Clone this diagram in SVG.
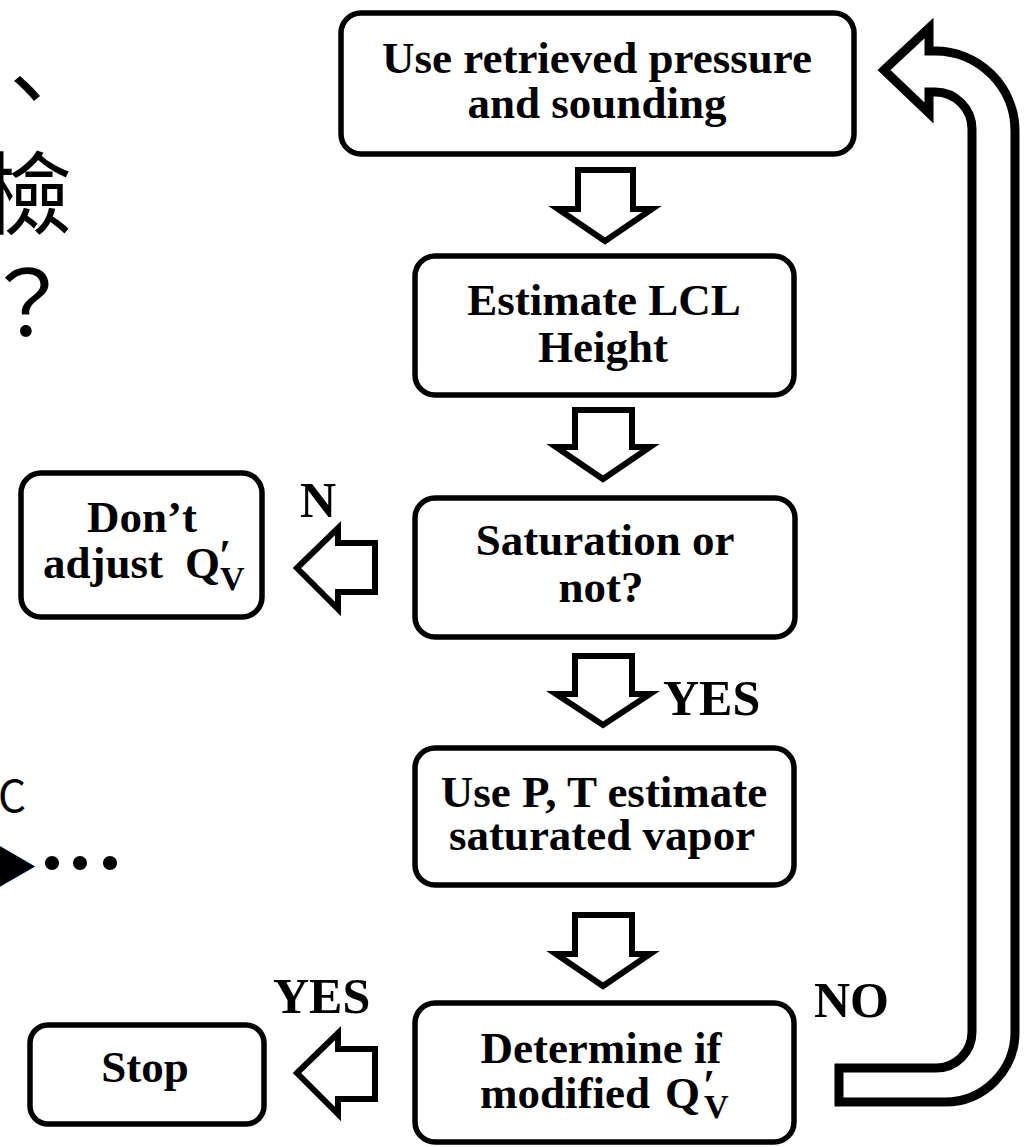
<svg xmlns="http://www.w3.org/2000/svg" width="1027" height="1147" viewBox="0 0 1027 1147">
<style>
.box{fill:#fff;stroke:#000;stroke-width:5.5}
.arr{fill:#fff;stroke:#000;stroke-width:6;stroke-linejoin:miter}
.big{fill:#fff;stroke:#000;stroke-width:9;stroke-linejoin:miter}
.t{font-family:"Liberation Serif","Times New Roman",serif;font-weight:bold;font-size:45px;fill:#000;text-anchor:middle}
.s{text-anchor:start}
.lab{font-family:"Liberation Serif","Times New Roman",serif;font-weight:bold;font-size:50px;fill:#000}
.sub{font-size:34px}
.pr{font-size:44px}
.cjk{font-family:"Noto Sans CJK TC","Noto Sans",sans-serif;fill:#000}
</style>
<rect width="1027" height="1147" fill="#fff"/>
<g id="side-text">
<text class="cjk" x="-18" y="122" font-size="90">、</text>
<text class="cjk" x="-18" y="227" font-size="90">檢</text>
<text class="cjk" x="-18" y="336" font-size="90">？</text>
<text class="cjk" x="26" y="812" font-size="44" text-anchor="end">C</text>
<text class="cjk" y="883"><tspan x="-8" font-size="46">▶</tspan><tspan x="19 47 77" y="888 888 888" font-size="66">•••</tspan></text>
</g>
<g id="connectors">
<polygon class="arr" points="578,170 633,170 633,209 652,209 605,241 558,209 578,209"/>
<polygon class="arr" points="575,410 632,410 632,447 650,447 603,479 556,447 575,447"/>
<polygon class="arr" points="575,656 632,656 632,694 650,694 603,725 556,694 575,694"/>
<polygon class="arr" points="575,915 632,915 632,954 650,954 603,986 556,954 575,954"/>
<polygon class="arr" points="297,568 338,528 338,543 375,543 375,592 338,592 338,609"/>
<polygon class="arr" points="297,1073 338,1033 338,1049 375,1049 375,1099 338,1099 338,1114"/>
<path class="big" d="M884,70 L929,28 L929,51 L935,51 A80,80 0 0 1 1015,131 L1015,1032 A70,70 0 0 1 945,1102 L839,1102 L839,1068 L936,1068 A36,36 0 0 0 972,1032 L972,129 A37,37 0 0 0 935,92 L929,92 L929,113 Z"/>
<text class="lab" x="663" y="715">YES</text>
<text class="lab" x="300" y="517">N</text>
<text class="lab" x="273" y="1013">YES</text>
<text class="lab" x="814" y="1017">NO</text>
</g>
<g id="n1">
<rect class="box" x="341" y="13" width="513" height="141" rx="20"/>
<text class="t" x="597" y="73">Use retrieved pressure</text>
<text class="t" x="597" y="118">and sounding</text>
</g>
<g id="n2">
<rect class="box" x="415" y="256" width="379" height="139" rx="20"/>
<text class="t" x="604" y="315">Estimate LCL</text>
<text class="t" x="603" y="362">Height</text>
</g>
<g id="n3">
<rect class="box" x="415" y="498" width="380" height="139" rx="20"/>
<text class="t" x="605" y="555">Saturation or</text>
<text class="t" x="601" y="602">not?</text>
</g>
<g id="n4">
<rect class="box" x="415" y="748" width="379" height="137" rx="20"/>
<text class="t" x="604" y="807">Use P, T estimate</text>
<text class="t" x="602" y="850">saturated vapor</text>
</g>
<g id="n5">
<rect class="box" x="415" y="1003" width="379" height="139" rx="20"/>
<text class="t" x="601" y="1063">Determine if</text>
<text class="t s" y="1108"><tspan x="480">modified</tspan><tspan x="665">Q</tspan><tspan class="pr" x="703" y="1100">′</tspan><tspan class="sub" x="704" y="1118">V</tspan></text>
</g>
<g id="n6">
<rect class="box" x="21" y="473" width="241" height="144" rx="20"/>
<text class="t" x="142" y="532">Don’t</text>
<text class="t s" y="578"><tspan x="43">adjust</tspan><tspan x="185">Q</tspan><tspan class="pr" x="219" y="570">′</tspan><tspan class="sub" x="220" y="590">V</tspan></text>
</g>
<g id="n7">
<rect class="box" x="30" y="1025" width="234" height="99" rx="18"/>
<text class="t" x="145" y="1082">Stop</text>
</g>
</svg>
